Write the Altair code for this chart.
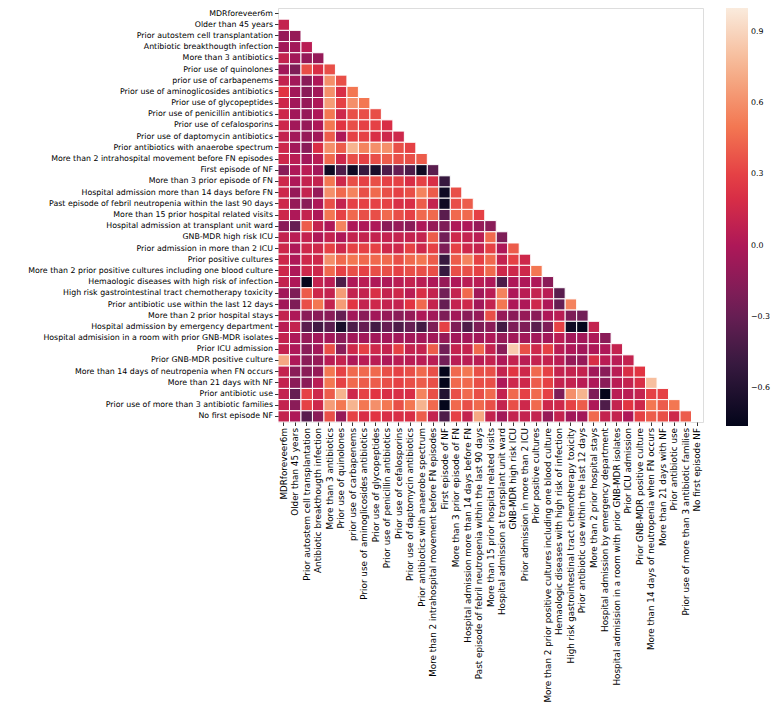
import altair as alt
import pandas as pd

labels = [
    "MDRforeveer6m",
    "Older than 45 years",
    "Prior autostem cell transplantation",
    "Antibiotic breakthougth infection",
    "More than 3 antibiotics",
    "Prior use of quinolones",
    "prior use of carbapenems",
    "Prior use of aminoglicosides antibiotics",
    "Prior use of glycopeptides",
    "Prior use of penicillin antibiotics",
    "Prior use of cefalosporins",
    "Prior use of daptomycin antibiotics",
    "Prior antibiotics with anaerobe spectrum",
    "More than 2 intrahospital movement before FN episodes",
    "First episode of NF",
    "More than 3 prior episode of FN",
    "Hospital admission more than 14 days before FN",
    "Past episode of febril neutropenia within the last 90 days",
    "More than 15 prior hospital related visits",
    "Hospital admission at transplant unit ward",
    "GNB-MDR high risk ICU",
    "Prior admission in more than 2 ICU",
    "Prior positive cultures",
    "More than 2 prior positive cultures including one blood culture",
    "Hemaologic diseases with high risk of infection",
    "High risk gastrointestinal tract chemotherapy toxicity",
    "Prior antibiotic use within the last 12 days",
    "More than 2 prior hospital stays",
    "Hospital admission by emergency department",
    "Hospital admisision in a room with prior GNB-MDR isolates",
    "Prior ICU admission",
    "Prior GNB-MDR positive culture",
    "More than 14 days of neutropenia when FN occurs",
    "More than 21 days with NF",
    "Prior antibiotic use",
    "Prior use of more than 3 antibiotic families",
    "No first episode NF",
]

# lower-triangle correlation values (row i has columns 0..i-1)
r00 = []
r01 = [0.1]
r02 = [-0.1, -0.1]
r03 = [-0.05, -0.05, 0.05]
r04 = [0.1, -0.05, -0.1, -0.1]
r05 = [-0.05, -0.2, 0.35, 0.2, 0.35]
r06 = [0.1, -0.05, -0.15, 0.0, 0.6, 0.35]
r07 = [0.25, -0.05, -0.15, -0.05, 0.6, 0.2, 0.5]
r08 = [0.15, -0.05, -0.1, 0.0, 0.65, 0.3, 0.6, 0.5]
r09 = [0.15, -0.05, -0.1, 0.0, 0.5, 0.15, 0.35, 0.35, 0.35]
r10 = [0.15, -0.05, -0.1, 0.0, 0.5, 0.25, 0.35, 0.3, 0.3, 0.2]
r11 = [0.1, -0.05, -0.1, -0.05, 0.4, 0.0, 0.3, 0.3, 0.2, 0.15, 0.15]
r12 = [0.15, -0.05, -0.15, 0.2, 0.6, 0.4, 0.75, 0.55, 0.6, 0.6, 0.35, 0.3]
r13 = [0.15, 0.05, -0.05, 0.05, 0.45, 0.15, 0.35, 0.3, 0.35, 0.4, 0.35, 0.35, 0.4]
r14 = [-0.15, 0.0, 0.05, -0.05, -0.7, -0.4, -0.7, -0.5, -0.65, -0.4, -0.3, -0.4, -0.7, -0.35]
r15 = [0.15, 0.0, 0.1, 0.1, 0.5, 0.15, 0.35, 0.3, 0.35, 0.3, 0.3, 0.2, 0.3, 0.2, -0.5]
r16 = [0.15, -0.1, 0.1, -0.1, 0.6, 0.45, 0.55, 0.35, 0.45, 0.35, 0.3, 0.35, 0.55, 0.4, -0.7, 0.35]
r17 = [0.15, -0.1, -0.15, 0.0, 0.35, 0.1, 0.3, 0.3, 0.3, 0.3, 0.2, 0.2, 0.4, 0.1, -0.7, 0.35, 0.4]
r18 = [0.15, 0.0, 0.1, 0.0, 0.5, 0.3, 0.45, 0.35, 0.35, 0.45, 0.35, 0.3, 0.45, 0.45, -0.35, 0.45, 0.45, 0.3]
r19 = [-0.15, -0.3, 0.4, 0.1, 0.0, 0.55, 0.0, 0.0, 0.0, -0.15, -0.1, -0.15, 0.0, -0.1, -0.2, 0.0, 0.0, -0.1, -0.15]
r20 = [0.1, 0.05, 0.1, 0.0, 0.1, 0.0, 0.1, 0.1, 0.1, 0.1, 0.1, 0.1, 0.1, 0.4, -0.25, 0.15, 0.1, 0.05, 0.45, -0.2]
r21 = [0.15, 0.0, 0.15, 0.15, 0.3, 0.15, 0.3, 0.3, 0.3, 0.15, 0.15, 0.3, 0.15, 0.3, -0.2, 0.3, 0.15, 0.1, 0.3, 0.0, 0.4]
r22 = [0.15, 0.0, 0.15, 0.15, 0.6, 0.45, 0.5, 0.45, 0.45, 0.45, 0.35, 0.45, 0.5, 0.4, -0.5, 0.4, 0.55, 0.3, 0.45, 0.1, 0.3, 0.15]
r23 = [0.15, 0.0, 0.15, 0.15, 0.45, 0.3, 0.35, 0.3, 0.35, 0.35, 0.3, 0.35, 0.35, 0.35, -0.5, 0.35, 0.35, 0.3, 0.45, 0.15, 0.15, 0.15, 0.5]
r24 = [0.1, 0.0, -0.75, 0.1, 0.05, -0.4, 0.0, 0.05, 0.0, 0.0, 0.05, 0.1, 0.05, 0.0, -0.1, 0.0, 0.05, 0.05, 0.0, -0.4, 0.0, 0.0, 0.0, -0.15]
r25 = [-0.05, -0.2, 0.4, 0.15, 0.1, 0.65, 0.1, 0.1, 0.2, 0.1, 0.15, 0.05, 0.2, 0.1, -0.25, 0.1, 0.45, -0.05, 0.05, 0.55, 0.0, 0.05, 0.1, 0.05, -0.35]
r26 = [-0.05, -0.2, 0.35, 0.5, 0.1, 0.65, 0.25, 0.1, 0.15, 0.1, 0.1, 0.25, 0.45, 0.1, -0.3, 0.1, 0.15, -0.05, 0.1, 0.5, 0.0, 0.0, 0.15, 0.0, -0.3, 0.55]
r27 = [0.1, 0.0, -0.15, -0.15, -0.15, -0.3, -0.05, -0.15, -0.05, -0.1, -0.15, -0.1, 0.0, -0.05, -0.2, -0.05, -0.15, -0.1, 0.35, -0.1, -0.15, -0.1, -0.15, 0.0, 0.05, -0.2, -0.25]
r28 = [0.05, 0.1, -0.35, -0.45, -0.35, -0.65, -0.4, -0.3, -0.45, -0.3, -0.4, -0.3, -0.45, -0.2, 0.3, -0.2, -0.4, -0.2, -0.15, -0.45, -0.2, -0.2, -0.35, -0.2, 0.3, -0.7, -0.75, 0.1]
r29 = [0.1, 0.0, -0.1, -0.05, -0.05, -0.15, -0.05, -0.05, -0.05, -0.05, -0.05, -0.05, -0.05, -0.05, -0.1, -0.05, -0.05, -0.05, 0.0, -0.1, -0.05, -0.05, -0.05, -0.05, 0.05, -0.05, -0.05, 0.0, -0.15]
r30 = [0.1, 0.0, -0.15, -0.05, 0.35, -0.15, 0.15, 0.3, 0.15, 0.1, 0.3, 0.1, 0.1, 0.4, -0.25, 0.1, 0.1, 0.45, 0.1, -0.15, 0.85, 0.35, 0.15, 0.3, 0.05, 0.0, -0.05, 0.0, 0.0, 0.1]
r31 = [0.7, 0.0, -0.15, -0.1, 0.05, 0.1, 0.0, 0.05, 0.05, 0.0, 0.05, 0.05, 0.05, 0.05, -0.25, 0.05, 0.05, 0.05, 0.1, 0.0, 0.1, 0.05, 0.1, 0.1, 0.05, -0.1, -0.1, 0.2, 0.05, 0.05, 0.1]
r32 = [0.1, -0.15, -0.15, -0.1, 0.5, 0.3, 0.45, 0.45, 0.45, 0.35, 0.3, 0.35, 0.45, 0.35, -0.75, 0.45, 0.5, 0.35, 0.35, 0.1, 0.25, 0.15, 0.45, 0.3, 0.1, 0.1, 0.1, -0.05, -0.15, 0.05, 0.2, 0.25]
r33 = [0.1, -0.15, -0.15, 0.05, 0.5, 0.3, 0.45, 0.4, 0.4, 0.35, 0.3, 0.35, 0.4, 0.35, -0.75, 0.45, 0.45, 0.35, 0.35, 0.0, 0.15, 0.15, 0.4, 0.3, 0.1, 0.1, 0.05, 0.0, -0.15, 0.05, 0.1, 0.2, 0.8]
r34 = [0.1, -0.3, 0.3, 0.15, 0.4, 0.75, 0.15, 0.3, 0.25, 0.2, 0.2, 0.2, 0.55, 0.35, -0.6, 0.35, 0.45, 0.35, 0.45, 0.1, 0.45, 0.3, 0.45, 0.3, -0.2, 0.6, 0.75, -0.2, -0.75, 0.05, 0.05, 0.1, 0.3, 0.3]
r35 = [0.1, -0.15, 0.3, 0.15, 0.65, 0.5, 0.75, 0.5, 0.6, 0.5, 0.35, 0.5, 0.75, 0.45, -0.75, 0.45, 0.35, 0.45, 0.35, 0.1, 0.35, 0.15, 0.45, 0.15, 0.15, 0.3, 0.4, 0.0, -0.4, 0.1, 0.25, 0.15, 0.5, 0.4, 0.5]
r36 = [0.1, 0.0, -0.35, -0.15, 0.35, -0.1, 0.3, 0.2, 0.25, 0.2, 0.2, 0.2, 0.4, 0.1, -0.4, 0.3, 0.1, 0.7, 0.1, -0.05, 0.1, 0.1, 0.1, -0.1, 0.1, -0.05, -0.05, 0.45, 0.1, 0.1, 0.0, 0.3, 0.4, 0.35, 0.15, 0.4]

corr_rows = [r00, r01, r02, r03, r04, r05, r06, r07, r08, r09, r10, r11, r12,
             r13, r14, r15, r16, r17, r18, r19, r20, r21, r22, r23, r24, r25,
             r26, r27, r28, r29, r30, r31, r32, r33, r34, r35, r36]

colorbar_ticks = [-0.6, -0.3, 0.0, 0.3, 0.6, 0.9]
vmin, vmax = -0.76, 1.0
rocket_pos = [0, 1 / 7, 2 / 7, 3 / 7, 4 / 7, 5 / 7, 6 / 7, 1]
rocket_colors = ["#03051a", "#35193e", "#701f57", "#ad1759",
                 "#e13342", "#f37651", "#f6b48f", "#faebdd"]
color_domain = [vmin + p * (vmax - vmin) for p in rocket_pos]

records = []
for i, row in enumerate(corr_rows):
    for j, v in enumerate(row):
        records.append({"row": labels[i], "col": labels[j], "value": v})
df = pd.DataFrame(records)

FONT = "DejaVu Sans"
FS_Y = 7.85
FS_X = 8.8

def axis_opts(fs, **extra):
    return alt.Axis(
        title=None, domain=False, grid=False, ticks=True, tickSize=3.5,
        tickColor="#000000", tickWidth=0.8, labelFont=FONT, labelFontSize=fs,
        labelColor="#000000", labelPadding=2, labelLimit=400, **extra,
    )

chart = alt.Chart(df).mark_rect(stroke="white", strokeWidth=1).encode(
    x=alt.X("col:N", sort=labels,
            scale=alt.Scale(domain=labels, paddingInner=0, paddingOuter=0),
            axis=axis_opts(FS_X, labelAngle=-90)),
    y=alt.Y("row:N", sort=labels,
            scale=alt.Scale(domain=labels, paddingInner=0, paddingOuter=0),
            axis=axis_opts(FS_Y)),
    color=alt.Color("value:Q",
                    scale=alt.Scale(domain=color_domain, range=rocket_colors,
                                    interpolate="rgb"),
                    legend=alt.Legend(title=None, orient="right",
                                      direction="vertical",
                                      gradientLength=418,
                                      gradientThickness=22,
                                      gradientStrokeWidth=0,
                                      values=colorbar_ticks, format=".1f",
                                      labelFont=FONT, labelFontSize=FS_Y,
                                      labelColor="#000000", labelOffset=3,
                                      offset=23, padding=0)),
).properties(
    width=425, height=414,
    autosize=alt.AutoSizeParams(type="none"),
    padding={"left": 270, "top": 0, "right": 68, "bottom": 280},
).configure_view(strokeWidth=0).configure(background="white")

chart.save("out.html", embed_options={"renderer": "svg", "actions": False})
